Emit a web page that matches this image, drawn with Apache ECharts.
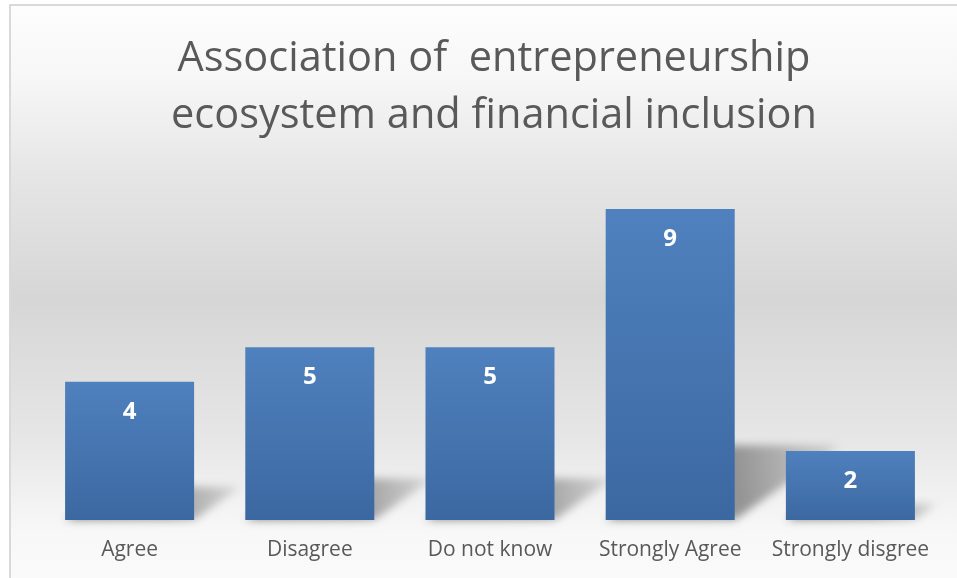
<!DOCTYPE html>
<html>
<head>
<meta charset="utf-8">
<style>
  html, body { margin: 0; padding: 0; background: #ffffff; }
  #chart { width: 957px; height: 578px; }
</style>
<script src="https://cdn.jsdelivr.net/npm/echarts@6/dist/echarts.min.js"></script>
</head>
<body>
<div id="chart"></div>
<script>
// Survey responses
const categories = ['Agree', 'Disagree', 'Do not know', 'Strongly Agree', 'Strongly disgree'];
const responses = [4, 5, 5, 9, 2];
const titleLines = ['Association of  entrepreneurship', 'ecosystem and financial inclusion'];

const GAP = 0.284; // share of each category slot left empty
const FONT = '"Open Sans", "Liberation Sans", sans-serif';
const SHIFT = 3000; // shadow shape is painted off-canvas; only its blurred shadow lands in view

const chart = echarts.init(document.getElementById('chart'), null, { renderer: 'canvas' });

// Soft floor shadow cast by each bar, leaning to the right
function renderShadow(params, api) {
  const base = api.coord([api.value(0), 0]);
  const top = api.coord([api.value(0), api.value(1)]);
  const w = api.size([1, 0])[0] * (1 - GAP);
  const h = base[1] - top[1];
  const dx = 0.34 * h;
  const dy = 0.24 * h;
  const l = base[0] - w / 2 - SHIFT, r = base[0] + w / 2 - SHIFT, y = base[1];
  return {
    type: 'polygon',
    shape: { points: [[l, y], [r, y], [r + dx, y - dy], [l + dx, y - dy]] },
    style: {
      fill: {
        type: 'linear', x: 0, y: 1, x2: 1, y2: 0,
        colorStops: [
          { offset: 0, color: 'rgba(0,0,0,1)' },
          { offset: 0.55, color: 'rgba(0,0,0,0.85)' },
          { offset: 1, color: 'rgba(0,0,0,0.2)' }
        ]
      },
      shadowBlur: 9,
      shadowOffsetX: SHIFT,
      shadowOffsetY: 0,
      shadowColor: 'rgba(0,0,0,0.45)'
    }
  };
}

chart.setOption({
  animation: false,
  graphic: [{
    type: 'rect',
    z: -10,
    silent: true,
    shape: { x: 10, y: 5, width: 960, height: 600 },
    style: {
      fill: {
        type: 'linear', x: 0, y: 0, x2: 0, y2: 1,
        colorStops: [
          { offset: 0, color: '#fdfdfd' },
          { offset: 0.12, color: '#f7f7f7' },
          { offset: 0.28, color: '#e6e6e6' },
          { offset: 0.49, color: '#d6d6d6' },
          { offset: 0.72, color: '#e6e6e6' },
          { offset: 0.88, color: '#f8f8f8' },
          { offset: 1, color: '#fbfbfb' }
        ]
      },
      stroke: '#d9d9d9',
      lineWidth: 2
    }
  }],
  title: {
    text: titleLines.join('\n'),
    left: 489,
    textAlign: 'center',
    top: 26,
    textStyle: {
      fontFamily: FONT,
      fontWeight: 'normal',
      fontSize: 41.5,
      lineHeight: 57,
      color: '#595959'
    }
  },
  grid: { left: 39.5, right: 16.5, top: 174.4, bottom: 58 },
  xAxis: {
    type: 'category',
    data: categories,
    axisLine: { show: false },
    axisTick: { show: false },
    axisLabel: {
      margin: 20,
      fontFamily: FONT,
      fontSize: 21,
      color: '#595959',
      interval: 0
    }
  },
  yAxis: {
    type: 'value',
    min: 0,
    max: 10,
    show: false,
    splitLine: { show: false }
  },
  series: [
    {
      type: 'custom',
      z: 1,
      silent: true,
      renderItem: renderShadow,
      data: responses.map((v, i) => [i, v])
    },
    {
      type: 'bar',
      z: 2,
      data: responses,
      barCategoryGap: (GAP * 100) + '%',
      itemStyle: {
        color: {
          type: 'linear', x: 0, y: 0, x2: 0, y2: 1,
          colorStops: [
            { offset: 0, color: '#4f81be' },
            { offset: 1, color: '#3c68a1' }
          ]
        }
      },
      label: {
        show: true,
        position: 'insideTop',
        distance: 18,
        fontFamily: FONT,
        fontWeight: 'bold',
        fontSize: 24,
        color: '#ffffff'
      }
    }
  ]
});
</script>
</body>
</html>
